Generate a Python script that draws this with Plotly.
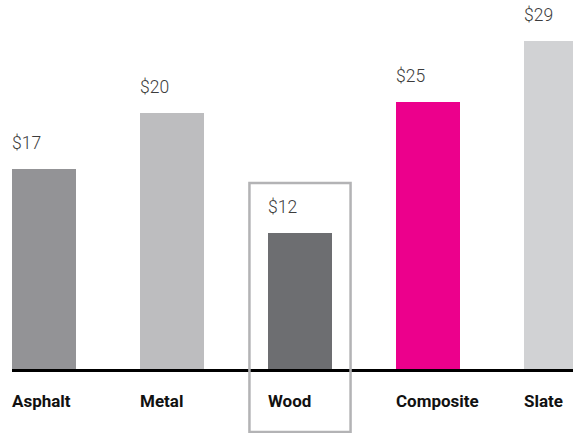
import plotly.graph_objects as go

categories = ["Asphalt", "Metal", "Wood", "Composite", "Slate"]
values = [17.7, 22.6, 12.0, 23.6, 29.0]
value_labels = ["$17", "$20", "$12", "$25", "$29"]
colors = ["#939396", "#bdbdbf", "#6d6e71", "#ec008c", "#d1d2d4"]
highlight = "Wood"

W, H = 573, 433
BOTTOM = 61
PLOT_H = H - BOTTOM
PX_PER_UNIT = 11.31
LINE_PX = 3
Y_MIN = -LINE_PX / PX_PER_UNIT
Y_MAX = (PLOT_H - LINE_PX) / PX_PER_UNIT
BAR_W = 0.5
X_RANGE = [-0.34375, -0.34375 + W / 128]

xs = list(range(len(categories)))

fig = go.Figure(go.Bar(
    x=xs, y=values, width=BAR_W,
    marker=dict(color=colors, line=dict(width=0)),
    hoverinfo="skip",
))

annotations = []
for i, (v, lab, cat) in enumerate(zip(values, value_labels, categories)):
    annotations.append(dict(
        x=i - BAR_W / 2, y=v, xref="x", yref="y",
        text=lab, showarrow=False, xanchor="left", yanchor="middle",
        yshift=26, xshift=-2,
        font=dict(family="Roboto", size=17.5, color="#3c3c3c", weight=300),
    ))
    annotations.append(dict(
        x=i - BAR_W / 2, y=0, xref="x", yref="paper",
        text=cat, showarrow=False, xanchor="left", yanchor="middle",
        yshift=-29, xshift=-2,
        font=dict(family="Roboto", size=17, color="#111111", weight="bold"),
    ))

hi = categories.index(highlight)
line_y = Y_MIN / 2
shapes = [
    dict(type="line", xref="x", yref="y", x0=-BAR_W / 2, x1=X_RANGE[1] + 1,
         y0=line_y, y1=line_y, line=dict(color="#000000", width=LINE_PX), layer="above"),
    dict(type="rect", xref="x", yref="paper",
         x0=hi - 0.395, x1=hi + 0.395,
         y0=(PLOT_H - 432) / PLOT_H, y1=(PLOT_H - 183) / PLOT_H,
         line=dict(color="#b3b3b5", width=2.5), layer="above"),
]

fig.update_layout(
    width=W, height=H,
    margin=dict(l=0, r=0, t=0, b=BOTTOM),
    paper_bgcolor="white", plot_bgcolor="white",
    showlegend=False,
    xaxis=dict(range=X_RANGE, visible=False, fixedrange=True),
    yaxis=dict(range=[Y_MIN, Y_MAX], visible=False, fixedrange=True),
    annotations=annotations, shapes=shapes,
    bargap=0,
)

fig.write_html(
    "out.html",
    config={"displayModeBar": False},
    post_script="document.body.style.margin='0';document.body.style.overflow='hidden';",
)
